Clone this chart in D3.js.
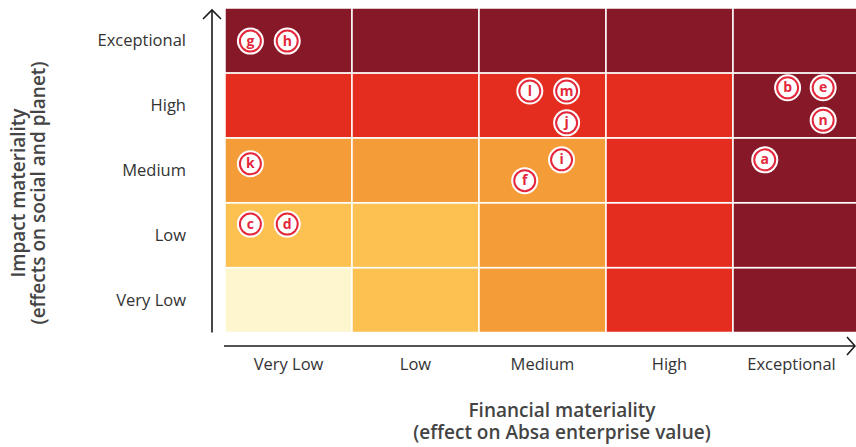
<!DOCTYPE html>
<html>
<head>
<meta charset="utf-8">
<script src="https://cdn.jsdelivr.net/npm/d3@7"></script>
<style>
  body { margin: 0; background: #fff; }
  svg { display: block; font-family: "Open Sans", "Noto Sans", sans-serif; }
</style>
</head>
<body>
<div id="chart"></div>
<script>
// niveles (de menor a mayor)
const levels = ["Very Low", "Low", "Medium", "High", "Exceptional"];

// color de cada celda: filas de impacto (Very Low -> Exceptional), columnas financieras
const cellLevels = [
  [0, 1, 2, 3, 4],   // impacto Very Low
  [1, 1, 2, 3, 4],   // Low
  [2, 2, 2, 3, 4],   // Medium
  [3, 3, 3, 3, 4],   // High
  [4, 4, 4, 4, 4]    // Exceptional
];
const palette = ["#fdf6cf", "#fcc151", "#f39c38", "#e42d1e", "#861827"];

// temas: posición en escala continua 0..5 (financiero, impacto)
const topicIds = ["g", "h", "l", "m", "j", "i", "f", "b", "e", "n", "a", "k", "c", "d"];
const topicFinancial = [0.20, 0.49, 2.40, 2.69, 2.69, 2.65, 2.36, 4.43, 4.71, 4.71, 4.25, 0.20, 0.20, 0.49];
const topicImpact = [4.49, 4.49, 3.72, 3.72, 3.23, 2.66, 2.34, 3.77, 3.77, 3.27, 2.66, 2.60, 1.67, 1.67];

const width = 856, height = 447;
const grid = { left: 225, right: 860, top: 8, bottom: 332.5 };

const svg = d3.select("#chart").append("svg")
  .attr("width", width)
  .attr("height", height);

const x = d3.scaleLinear().domain([0, 5]).range([grid.left, grid.right]);
const y = d3.scaleLinear().domain([0, 5]).range([grid.bottom, grid.top]);

// celdas
const cells = [];
cellLevels.forEach((row, r) => row.forEach((lv, c) => cells.push({ r, c, lv })));

svg.append("g").selectAll("rect")
  .data(cells)
  .enter().append("rect")
  .attr("x", d => x(d.c))
  .attr("y", d => y(d.r + 1))
  .attr("width", d => x(d.c + 1) - x(d.c))
  .attr("height", d => y(d.r) - y(d.r + 1))
  .attr("fill", d => palette[d.lv])
  .attr("stroke", "#fff")
  .attr("stroke-width", 1.5);

// ejes con flechas
const axisColor = "#1a1a1a";
svg.append("line")
  .attr("x1", 212).attr("x2", 212)
  .attr("y1", grid.bottom).attr("y2", 10)
  .attr("stroke", axisColor).attr("stroke-width", 1.6);
svg.append("path")
  .attr("d", "M203,19 L212,10 L221,19")
  .attr("fill", "none").attr("stroke", axisColor).attr("stroke-width", 1.6);

svg.append("line")
  .attr("x1", grid.left - 1).attr("x2", 855)
  .attr("y1", 346).attr("y2", 346)
  .attr("stroke", axisColor).attr("stroke-width", 1.6);
svg.append("path")
  .attr("d", "M847,337 L855,346 L847,355")
  .attr("fill", "none").attr("stroke", axisColor).attr("stroke-width", 1.6);

// etiquetas
svg.append("g").selectAll("text")
  .data(levels)
  .enter().append("text")
  .attr("x", 186)
  .attr("y", (d, i) => y(i + 0.5))
  .attr("dy", "0.35em")
  .attr("text-anchor", "end")
  .attr("font-size", 16.5)
  .attr("fill", "#333")
  .text(d => d);

svg.append("g").selectAll("text")
  .data(levels)
  .enter().append("text")
  .attr("x", (d, i) => x(i + 0.5) - (i === 4 ? 5 : 0))
  .attr("y", 364)
  .attr("dy", "0.35em")
  .attr("text-anchor", "middle")
  .attr("font-size", 16.5)
  .attr("fill", "#333")
  .text(d => d);

// títulos de ejes
svg.append("text")
  .attr("text-anchor", "middle")
  .attr("font-size", 19)
  .attr("font-weight", 600)
  .attr("fill", "#444")
  .selectAll("tspan")
  .data(["Financial materiality", "(effect on Absa enterprise value)"])
  .enter().append("tspan")
  .attr("x", 562)
  .attr("y", (d, i) => 417 + i * 22)
  .text(d => d);

svg.append("text")
  .attr("transform", "translate(0,193) rotate(-90)")
  .attr("text-anchor", "middle")
  .attr("font-size", 19)
  .attr("font-weight", 600)
  .attr("fill", "#444")
  .selectAll("tspan")
  .data(["Impact materiality", "(effects on social and planet)"])
  .enter().append("tspan")
  .attr("x", 0)
  .attr("y", (d, i) => 25 + i * 19.5)
  .text(d => d);

// marcadores
const topics = topicIds.map((id, i) => ({ id, fx: topicFinancial[i], iy: topicImpact[i] }));
const markRed = "#e4283c";

const marks = svg.append("g").selectAll("g")
  .data(topics)
  .enter().append("g")
  .attr("transform", d => `translate(${x(d.fx)},${y(d.iy)})`);

marks.append("circle")
  .attr("r", 13.5)
  .attr("fill", "#fff");

marks.append("circle")
  .attr("r", 10.5)
  .attr("fill", "#fff")
  .attr("stroke", markRed)
  .attr("stroke-width", 2);

marks.append("text")
  .attr("text-anchor", "middle")
  .attr("dy", "0.33em")
  .attr("font-size", 14)
  .attr("font-weight", 700)
  .attr("fill", markRed)
  .text(d => d.id);
</script>
</body>
</html>
